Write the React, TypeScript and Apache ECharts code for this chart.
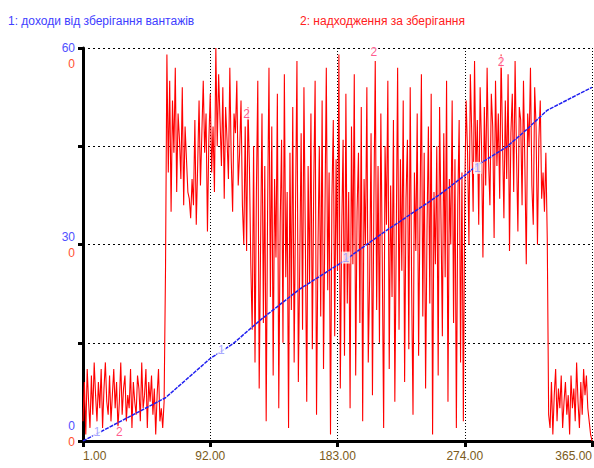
import React, { useEffect, useRef } from "react";
import * as echarts from "echarts";

// x tick labels (days), axis index = day - 1
const xTickLabels = ["1.00", "92.00", "183.00", "274.00", "365.00"];
const yLabelValues = [0, 30, 60];

const seriesNames = ["1: доходи від зберігання вантажів", "2: надходження за зберігання"];

// Series 2: daily income (365 values)
const redSegA = [3, 9, 1, 11, 6, 2, 10, 4, 12, 7, 3, 9, 5, 11, 2, 8, 12, 6, 4, 10, 3, 7, 11, 5, 9, 2, 6, 12, 4, 8, 10, 3, 7, 5, 11, 2, 9, 6, 4, 10, 8, 3, 12, 5, 7, 11, 2, 9, 6, 10, 4, 8, 1, 7, 11, 3, 5, 2, 6];
const redSegB = [26, 59, 41, 55, 35, 52, 44, 57, 38, 50, 46, 40, 54, 36, 48, 43, 38, 37, 34, 40, 36, 49, 33, 42, 52, 39, 47, 55, 44, 50, 32, 46, 53, 41, 48, 38, 60, 45, 56, 49, 42, 54, 37, 51, 46, 40, 57, 43, 35, 50, 47, 55, 39, 44, 52, 36, 30, 48, 29, 51, 42, 27, 17];
const redSegC = [45, 12, 38, 55, 8, 30, 50, 18, 42, 3, 35, 57, 22, 48, 10, 40, 28, 53, 5, 33, 46, 15, 56, 25, 38, 2, 44, 20, 51, 12,
  36, 58, 9, 27, 47, 17, 54, 31, 6, 42, 24, 50, 14, 39, 55, 4, 29, 45, 19, 52,
  11, 34, 57, 23, 41, 1, 37, 49, 16, 43, 26, 59, 8, 32, 46, 13, 53, 21, 38, 5,
  48, 27, 56, 10, 35, 44, 18, 51, 3, 40, 30, 54, 12, 25, 47, 7, 36, 58, 20, 42,
  15, 50, 28, 2, 45, 33, 55, 11, 39, 22, 49, 6, 31, 57, 17, 43, 26, 52, 9, 37,
  46, 14, 54, 24, 4, 41, 29, 50, 13, 35, 56, 19, 44, 8, 32, 48, 21, 53, 1, 38,
  27, 45, 10, 51, 34, 16, 47, 25, 55, 6, 40, 30, 52, 18, 43, 2, 36, 49, 12, 41];
const redSegD = [3, 38, 52, 44, 30, 56, 47, 35, 58, 41, 49, 33, 54, 45, 28, 51, 39, 57, 43, 36, 53, 48, 31, 55, 42, 50, 37, 59, 46, 34,
  52, 40, 56, 29, 47, 53, 38, 58, 44, 32, 51, 49, 36, 55, 42, 27, 50, 45, 57, 39, 33, 54, 48, 30, 46, 52, 37, 41, 35, 44, 31];
const redSegE = [4, 2, 9, 1, 7, 11, 3, 8, 5, 10, 2, 6, 9, 4, 7, 1, 10, 5, 8, 3, 12, 6, 2, 9, 4, 11, 7, 10, 5, 3, 1, 0];
const redValues = [...redSegA, ...redSegB, ...redSegC, ...redSegD, ...redSegE];

// Series 1: accumulated income, read at break points
const blueDays = [1, 60, 92, 108, 128, 156, 187, 215, 256, 273, 283, 304, 318, 333, 365];
const blueValues = [0, 6.6, 12.6, 14.8, 18.5, 23.2, 27.4, 31.7, 37.6, 40.4, 42.1, 44.9, 47.5, 50.5, 54];

// "1" / "2" line markers
const blueMarkDays = [11, 100, 189, 283];
const blueMarkValues = [1.4, 13.9, 28, 41.7];
const redMarkDays = [27, 118, 209, 300];
const redMarkValues = [1.4, 50, 59.4, 57.9];

const FONT = "Liberation Sans, Arial, sans-serif";

export default function App() {
  const ref = useRef<HTMLDivElement>(null);
  useEffect(() => {
    if (!ref.current) return;
    const chart = echarts.init(ref.current, undefined, { renderer: "svg" });
    const redData = redValues.map((v, i) => [i, v]);
    const blueData = blueDays.map((d, i) => [d - 1, blueValues[i]]);
    const yMax = yLabelValues[yLabelValues.length - 1];
    const yMin = yLabelValues[0];
    chart.setOption({
      animation: false,
      backgroundColor: "#ffffff",
      textStyle: { fontFamily: FONT },
      grid: { left: 83, right: 2, top: 48, bottom: 27, containLabel: false, outerBoundsMode: "none" },
      graphic: [
        {
          type: "text",
          left: 8,
          top: 15,
          style: { text: seriesNames[0], fill: "#4040ff", font: `12px ${FONT}` },
        },
        {
          type: "text",
          left: 300,
          top: 15,
          style: { text: seriesNames[1], fill: "#ff2020", font: `12px ${FONT}` },
        },
      ],
      xAxis: {
        type: "value",
        min: 0,
        max: 364,
        interval: 91,
        axisLine: { show: true, lineStyle: { color: "#000", width: 3 } },
        axisTick: { show: true, length: 6, lineStyle: { color: "#000", width: 3 } },
        axisLabel: {
          color: "#7a5a20",
          fontSize: 12,
          margin: 9,
          fontFamily: FONT,
          alignMinLabel: "left",
          alignMaxLabel: "right",
          hideOverlap: false,
          formatter: (v: number) => xTickLabels[Math.round(v / 91)] ?? "",
        },
        splitLine: { show: true, lineStyle: { color: "#000", type: [1, 2], width: 1 } },
      },
      yAxis: {
        type: "value",
        min: 0,
        max: 60,
        interval: 15,
        axisLine: { show: true, lineStyle: { color: "#000", width: 3 } },
        axisTick: { show: true, length: 5, lineStyle: { color: "#000", width: 3 } },
        axisLabel: {
          margin: 8,
          fontFamily: FONT,
          formatter: (v: number) => {
            if (!yLabelValues.includes(v)) return "";
            if (v === yMax) return `{e|}\n{b|${v}}\n{r|0}`;
            if (v === yMin) return `{b|${v}}\n{r|0}\n{e|}`;
            return `{b|${v}}\n{r|0}`;
          },
          rich: {
            b: { color: "#5050ff", fontSize: 12, lineHeight: 16, fontFamily: FONT },
            r: { color: "#ff5030", fontSize: 12, lineHeight: 16, fontFamily: FONT },
            e: { fontSize: 1, lineHeight: 15 },
          },
        },
        splitLine: { show: true, lineStyle: { color: "#000", type: [2, 3], width: 1 } },
      },
      series: [
        {
          type: "line",
          data: redData,
          showSymbol: false,
          symbol: "none",
          lineStyle: { color: "#ff0000", width: 1.1 },
          z: 2,
        },
        {
          type: "line",
          data: blueData,
          showSymbol: false,
          symbol: "none",
          lineStyle: { color: "#2020f0", width: 1.5, type: [4, 1] },
          z: 3,
        },
        {
          type: "scatter",
          data: blueMarkDays.map((d, i) => [d - 1, blueMarkValues[i]]),
          symbolSize: 0,
          z: 5,
          label: {
            show: true,
            position: "inside",
            formatter: "1",
            color: "#9090ff",
            fontSize: 12,
            fontFamily: FONT,
            backgroundColor: "#ffffff",
            padding: [0, 1],
          },
        },
        {
          type: "scatter",
          data: redMarkDays.map((d, i) => [d - 1, redMarkValues[i]]),
          symbolSize: 0,
          z: 5,
          label: {
            show: true,
            position: "inside",
            formatter: "2",
            color: "#ff3070",
            fontSize: 12,
            fontFamily: FONT,
            backgroundColor: "#ffffff",
            padding: [0, 1],
          },
        },
      ],
    });
    return () => chart.dispose();
  }, []);
  return (
    <div
      ref={ref}
      style={{ position: "fixed", left: 0, top: 0, width: 594, height: 468, background: "#fff" }}
    />
  );
}
